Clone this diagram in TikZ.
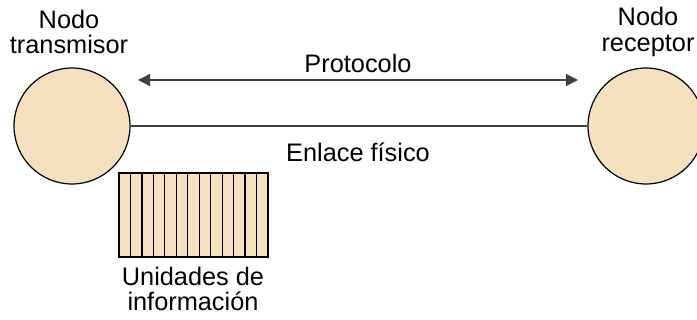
\documentclass[tikz,border=0pt]{standalone}
\usepackage{fontspec}
\setmainfont{Liberation Sans}
\usepackage{xcolor}
\usetikzlibrary{positioning, arrows.meta}

\definecolor{nodofill}{RGB}{245,224,192}
\definecolor{lineagris}{RGB}{64,64,64}

\tikzset{
    nodo/.style={circle, draw, line width=0.9pt, fill=nodofill, minimum size=87pt, inner sep=0pt},
    etiqueta/.style={align=center, font=\fontsize{19}{19}\selectfont, inner sep=0pt},
    enlace/.style={draw=lineagris, line width=1.1pt},
    flecha/.style={lineagris, line width=1.1pt, {Triangle[length=9pt,width=9pt]}-{Triangle[length=9pt,width=9pt]}},
    unidad/.style={draw, line width=0.9pt, fill=nodofill, minimum width=111.75pt, minimum height=63pt, inner sep=0pt}
}

\begin{document}
\begin{tikzpicture}[x=0.75pt, y=-0.75pt]
        \useasboundingbox (0,0) rectangle (697,320);

        % nodos
        \node[etiqueta] (txlab) at (69,32) {Nodo\\transmisor};
        \node[etiqueta] (rxlab) at (648,32) {Nodo\\receptor};
        \node[nodo] (tx) at (72,126) {};
        \node[nodo] (rx) at (646,126) {};

        % protocolo
        \coordinate (pizq) at (138,80);
        \coordinate (pder) at (578,80);
        \draw[flecha] (pizq) -- (pder);
        \node[etiqueta] (proto) at (358,63) {Protocolo};

        % enlace
        \draw[enlace] (tx) -- (rx);
        \node[etiqueta] (enl) at (358,152) {Enlace físico};

        % unidades de informacion
        \node[unidad] (pdu) at (193.5,215) {};
        \foreach \i in {1,...,12}
            \draw[line width=0.9pt] (119+\i*11.46,173) -- ++(0,84);
        \node[etiqueta] (pdulab) at (193,289) {Unidades de\\información};
    \end{tikzpicture}
\end{document}
